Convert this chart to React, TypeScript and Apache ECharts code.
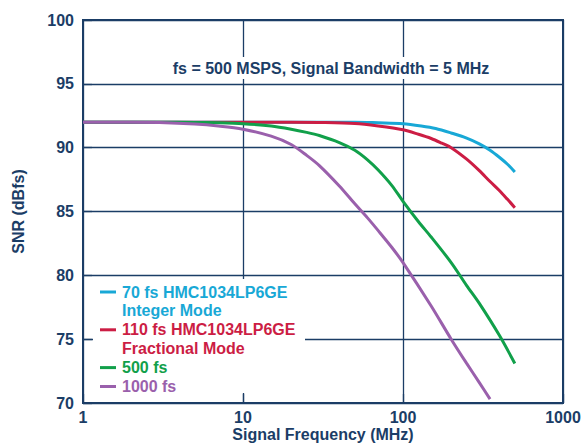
import React, { useEffect, useRef } from "react";
import * as echarts from "echarts";

const NAVY = "#1b3d66";
const FONT = "'Liberation Sans', Arial, Helvetica, sans-serif";

const seriesNames = [
  "70 fs HMC1034LP6GE Integer Mode",
  "110 fs HMC1034LP6GE Fractional Mode",
  "500 fs",
  "1000 fs",
];
const seriesColors = ["#18a8d6", "#cc1d44", "#11a04a", "#9a60ac"];

const cyanFreq = [1, 2, 5, 10, 20, 50, 70, 100, 130, 160, 200, 250, 300, 350, 400, 450, 500];
const cyanSnr = [92.0, 92.0, 92.0, 92.0, 92.0, 92.0, 91.95, 91.88, 91.7, 91.5, 91.15, 90.75, 90.3, 89.8, 89.25, 88.7, 88.1];

const redFreq = [1, 5, 10, 20, 30, 50, 70, 100, 125, 150, 175, 200, 250, 300, 350, 400, 450, 500];
const redSnr = [92.0, 92.0, 92.0, 92.0, 91.98, 91.9, 91.7, 91.4, 91.05, 90.72, 90.35, 90.0, 89.1, 88.2, 87.35, 86.65, 85.95, 85.3];

const greenFreq = [1, 3, 5, 7, 10, 15, 20, 25, 30, 40, 50, 60, 70, 85, 100, 125, 150, 200, 250, 300, 400, 500];
const greenSnr = [92.0, 92.0, 91.98, 91.95, 91.88, 91.7, 91.45, 91.2, 90.95, 90.4, 89.8, 89.05, 88.25, 87.05, 85.8, 84.2, 83.0, 81.0, 79.2, 77.8, 75.3, 73.1];

const purpleFreq = [1, 2, 3, 5, 7, 10, 15, 20, 25, 30, 40, 50, 60, 70, 85, 100, 150, 200, 250, 300, 350];
const purpleSnr = [92.0, 92.0, 91.97, 91.85, 91.7, 91.45, 90.9, 90.25, 89.4, 88.6, 87.0, 85.6, 84.5, 83.5, 82.2, 81.0, 77.6, 75.0, 73.1, 71.6, 70.3];

const xTicks = [1, 10, 100, 1000];
const yMin = 70;
const yMax = 100;
const yStep = 5;

const legendLines = [
  { text: "70 fs HMC1034LP6GE", color: 0, icon: true },
  { text: "Integer Mode", color: 0, icon: false },
  { text: "110 fs HMC1034LP6GE", color: 1, icon: true },
  { text: "Fractional Mode", color: 1, icon: false },
  { text: "500 fs", color: 2, icon: true },
  { text: "1000 fs", color: 3, icon: true },
];

const titleText = "fs = 500 MSPS, Signal Bandwidth = 5 MHz";

export default function App() {
  const ref = useRef<HTMLDivElement>(null);
  useEffect(() => {
    if (!ref.current) return;
    const chart = echarts.init(ref.current, undefined, { renderer: "svg" });
    const freqs = [cyanFreq, redFreq, greenFreq, purpleFreq];
    const snrs = [cyanSnr, redSnr, greenSnr, purpleSnr];
    const series = seriesNames.map((name, i) => ({
      name,
      type: "line",
      data: freqs[i].map((f, j) => [f, snrs[i][j]]),
      showSymbol: false,
      smooth: 0.3,
      lineStyle: { color: seriesColors[i], width: 3 },
      itemStyle: { color: seriesColors[i] },
      z: 3,
    }));

    const legendGraphics: any[] = [
      {
        type: "rect",
        shape: { x: 93, y: 279, width: 212, height: 114 },
        style: { fill: "#ffffff" },
        z: 100,
      },
    ];
    legendLines.forEach((l, i) => {
      const y = 292 + i * 18.9;
      if (l.icon) {
        legendGraphics.push({
          type: "line",
          shape: { x1: 100, y1: y, x2: 116, y2: y },
          style: { stroke: seriesColors[l.color], lineWidth: 3 },
          z: 101,
        });
      }
      legendGraphics.push({
        type: "text",
        x: 122,
        y,
        style: {
          text: l.text,
          fill: seriesColors[l.color],
          font: `bold 16px ${FONT}`,
          align: "left",
          verticalAlign: "middle",
        },
        z: 101,
      });
    });

    chart.setOption({
      animation: false,
      backgroundColor: "#ffffff",
      grid: {
        left: 83,
        right: 18,
        top: 20,
        bottom: 41,
        outerBoundsMode: "none",
        containLabel: false,
        show: true,
        borderColor: NAVY,
        borderWidth: 2,
        backgroundColor: "transparent",
      },
      xAxis: {
        type: "log",
        logBase: 10,
        min: xTicks[0],
        max: xTicks[xTicks.length - 1],
        name: "Signal Frequency (MHz)",
        nameLocation: "middle",
        nameGap: 23,
        nameMoveOverlap: false,
        nameTextStyle: { color: NAVY, fontSize: 16, fontWeight: "bold", fontFamily: FONT },
        axisLine: { show: true, lineStyle: { color: NAVY, width: 2 } },
        axisTick: { show: true, inside: true, length: 9, lineStyle: { color: NAVY, width: 1.3 } },
        minorTick: { show: false },
        axisLabel: {
          color: NAVY,
          fontSize: 16,
          fontWeight: "bold",
          fontFamily: FONT,
          margin: 6,
          formatter: (v: number) => String(Math.round(v)),
        },
        splitLine: { show: true, lineStyle: { color: NAVY, width: 1.3 } },
      },
      yAxis: {
        type: "value",
        min: yMin,
        max: yMax,
        interval: yStep,
        name: "SNR (dBfs)",
        nameLocation: "middle",
        nameGap: 57,
        nameMoveOverlap: false,
        nameTextStyle: { color: NAVY, fontSize: 16, fontWeight: "bold", fontFamily: FONT },
        axisLine: { show: true, lineStyle: { color: NAVY, width: 2 } },
        axisTick: { show: true, inside: true, length: 9, lineStyle: { color: NAVY, width: 1.3 } },
        axisLabel: {
          color: NAVY,
          fontSize: 16,
          fontWeight: "bold",
          fontFamily: FONT,
          margin: 9,
        },
        splitLine: { show: true, lineStyle: { color: NAVY, width: 1.3 } },
      },
      graphic: [
        {
          type: "text",
          x: 331,
          y: 68,
          style: {
            text: titleText,
            fill: NAVY,
            font: `bold 16px ${FONT}`,
            align: "center",
            verticalAlign: "middle",
            backgroundColor: "#ffffff",
            padding: [3, 4],
          },
          z: 100,
        },
        ...legendGraphics,
      ],
      series,
    });
    return () => chart.dispose();
  }, []);
  return <div ref={ref} style={{ width: 581, height: 444, position: "absolute", left: 0, top: 0 }} />;
}
